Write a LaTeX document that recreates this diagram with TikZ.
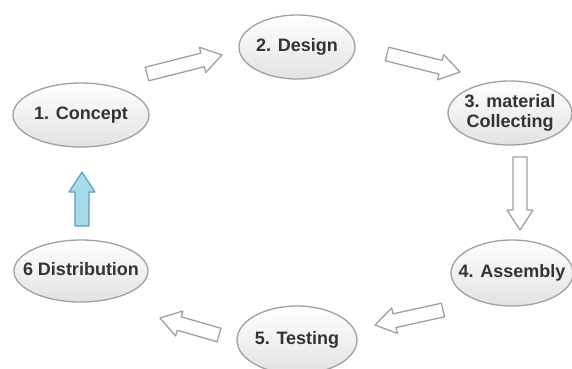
\documentclass[tikz,border=0pt]{standalone}
\usepackage{fontspec}
\setmainfont{Liberation Sans}
\usetikzlibrary{shapes.geometric,calc}
\definecolor{txtgray}{HTML}{333333}
\definecolor{edgegray}{HTML}{A0A0A0}
\definecolor{fillgray}{HTML}{E2E2E2}
\definecolor{bluefill}{HTML}{A6DCEA}
\definecolor{blueedge}{HTML}{5F9FB8}
\newcommand\blockarr[3]{%
  \coordinate (#2-h) at ($(#3)!20pt!(#2)$);
  \draw[#1] ($(#2)!7pt!90:(#3)$) -- ($(#2-h)!7pt!90:(#3)$) -- ($(#2-h)!13pt!90:(#3)$)
    -- (#3) -- ($(#2-h)!13pt!-90:(#3)$) -- ($(#2-h)!7pt!-90:(#3)$) -- ($(#2)!7pt!-90:(#3)$) -- cycle;}
\newcommand\fixw[1]{\makebox[0pt]{\begin{tabular}{@{}c@{}}#1\end{tabular}}}
\begin{document}
\begin{tikzpicture}[x=1pt,y=-1pt,
  stage/.style={ellipse,draw=edgegray,line width=1.3pt,top color=white,bottom color=fillgray,
    inner sep=0pt,text=txtgray,font=\fontsize{18}{20}\selectfont\bfseries},
  grayarr/.style={draw=edgegray,fill=white,line width=1.3pt,line join=round},
  bluearr/.style={draw=blueedge,fill=bluefill,line width=1.2pt,line join=round}]
\useasboundingbox (0,0) rectangle (572,368);
\node[stage,minimum width=136pt,minimum height=64pt] (s1) at (81,115) {\fixw{1. Concept}};
\node[stage,minimum width=116pt,minimum height=64pt] (s2) at (297,47) {\fixw{2. Design}};
\node[stage,minimum width=124pt,minimum height=64pt] (s3) at (510,113) {\fixw{3. material\\Collecting}};
\node[stage,minimum width=122pt,minimum height=66pt] (s4) at (512,273) {\fixw{4. Assembly}};
\node[stage,minimum width=120pt,minimum height=68pt] (s5) at (297,340) {\fixw{5. Testing}};
\node[stage,minimum width=134pt,minimum height=62pt] (s6) at (81,271) {\fixw{6 Distribution}};
\coordinate (a1t) at (147,74);  \coordinate (a1h) at (222,55);
\coordinate (a2t) at (387,54);  \coordinate (a2h) at (460,72);
\coordinate (a3t) at (520,157); \coordinate (a3h) at (520,230);
\coordinate (a4t) at (443,310); \coordinate (a4h) at (375,325);
\coordinate (a5t) at (219,335); \coordinate (a5h) at (160,318);
\coordinate (a6t) at (82,226);  \coordinate (a6h) at (82,172);
\blockarr{grayarr}{a1t}{a1h}
\blockarr{grayarr}{a2t}{a2h}
\blockarr{grayarr}{a3t}{a3h}
\blockarr{grayarr}{a4t}{a4h}
\blockarr{grayarr}{a5t}{a5h}
\blockarr{bluearr}{a6t}{a6h}
\end{tikzpicture}
\end{document}
